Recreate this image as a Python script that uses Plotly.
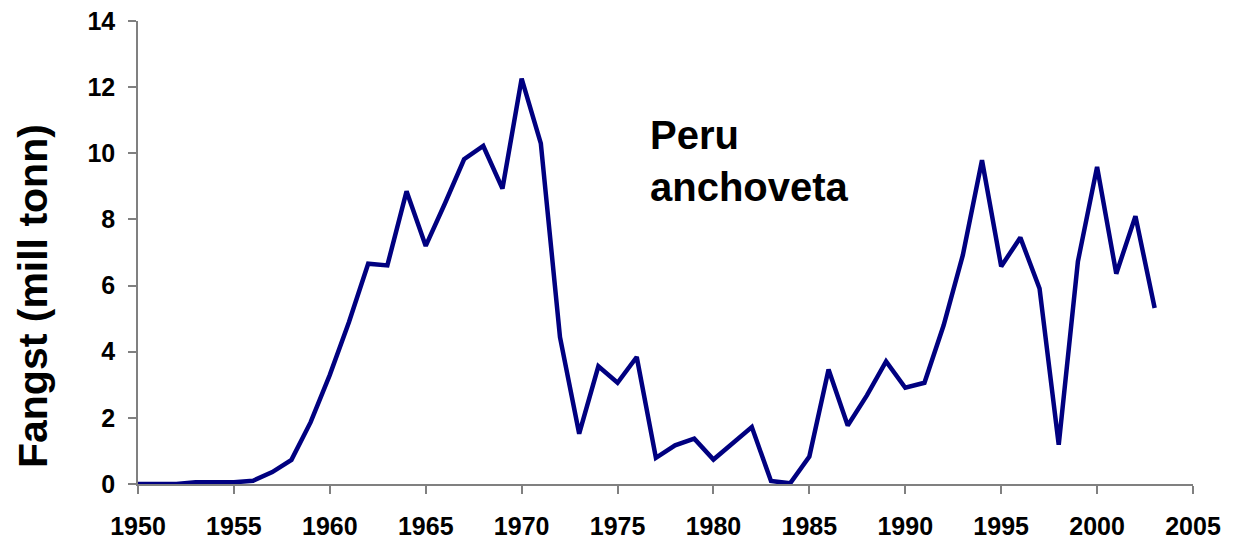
import plotly.graph_objects as go

years = list(range(1950, 2004))
catch = [0.0, 0.0, 0.0, 0.05, 0.05, 0.05, 0.1, 0.36, 0.73, 1.87,
         3.3, 4.9, 6.66, 6.61, 8.85, 7.2, 8.48, 9.82, 10.22, 8.93,
         12.26, 10.3, 4.44, 1.52, 3.56, 3.06, 3.84, 0.79, 1.17, 1.37,
         0.74, 1.22, 1.72, 0.09, 0.02, 0.83, 3.46, 1.77, 2.68, 3.71,
         2.91, 3.06, 4.8, 6.92, 9.79, 6.58, 7.45, 5.91, 1.19, 6.73,
         9.59, 6.36, 8.1, 5.32]

x_ticks = list(range(1950, 2006, 5))
y_ticks = list(range(0, 15, 2))

FONT = "Liberation Sans, Arial, sans-serif"

fig = go.Figure()
fig.add_trace(go.Scatter(
    x=years, y=catch, mode="lines",
    line=dict(color="#000080", width=4.5),
    cliponaxis=False, showlegend=False,
))

fig.update_layout(
    width=1234, height=532,
    margin=dict(l=130, r=49, t=13, b=56),
    paper_bgcolor="white", plot_bgcolor="white",
    font=dict(family=FONT, color="black"),
    xaxis=dict(
        range=[1950, 2005], tickvals=x_ticks, ticktext=[str(v) for v in x_ticks],
        showgrid=False, zeroline=False, showline=True, linecolor="#808080", linewidth=1.5,
        ticks="outside", ticklen=8, tickcolor="#808080", tickwidth=1.5,
        tickfont=dict(family=FONT, size=25, color="black", weight="bold"),
        ticklabelstandoff=11, automargin=False, ticklabeloverflow="allow",
    ),
    yaxis=dict(
        range=[0, 14], tickvals=y_ticks, ticktext=[str(v) for v in y_ticks],
        showgrid=False, zeroline=False, showline=True, linecolor="#808080", linewidth=1.5,
        ticks="outside", ticklen=8, tickcolor="#808080", tickwidth=1.5,
        tickfont=dict(family=FONT, size=25, color="black", weight="bold"),
        ticklabelstandoff=8, automargin=False, ticklabeloverflow="allow",
    ),
    annotations=[
        dict(text="<b>Fangst (mill tonn)</b>", xref="paper", yref="paper",
             x=-0.0995, y=0.406, xanchor="center", yanchor="middle",
             textangle=-90, showarrow=False,
             font=dict(family=FONT, size=41, color="black")),
        dict(text="<b>Peru<br>anchoveta</b>", xref="paper", yref="paper",
             x=0.4834, y=0.6976, xanchor="left", yanchor="middle", align="left",
             showarrow=False,
             font=dict(family=FONT, size=40, color="black")),
    ],
)

fig.write_html("out.html")
